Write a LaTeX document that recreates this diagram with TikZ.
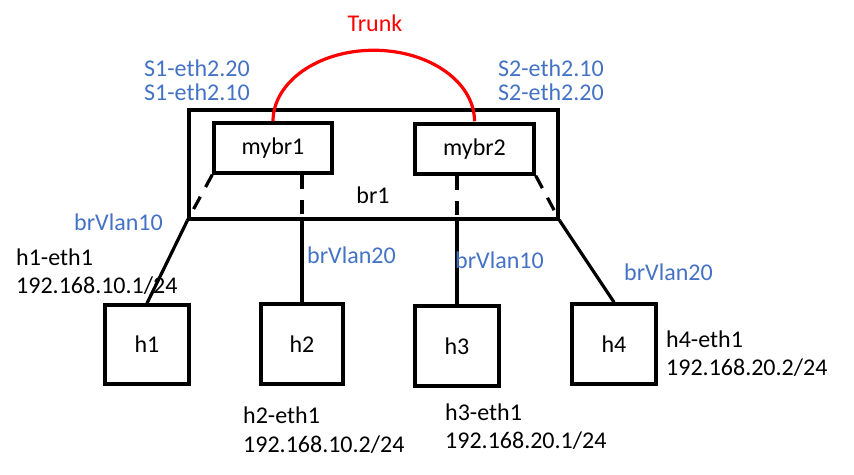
\documentclass[tikz,border=0pt]{standalone}
\usepackage{fontspec}
\setmainfont{Carlito}
\definecolor{lblblue}{HTML}{4472C4}
\definecolor{trunkred}{HTML}{FF0000}
\begin{document}
\begin{tikzpicture}[x=1pt,y=-1pt,
  every node/.style={font=\fontsize{24}{29}\selectfont},
  boxnode/.style={draw=black,line width=3.5pt,inner sep=0pt},
  wire/.style={line width=3.2pt,line cap=butt},
  dashwire/.style={line width=3.2pt,dash pattern=on 14pt off 11pt},
  trunkwire/.style={line width=3.2pt,draw=trunkred},
  bluelbl/.style={text=lblblue,anchor=base west,inner sep=0pt},
  blacklbl/.style={text=black,anchor=base west,inner sep=0pt}]
\useasboundingbox (0,0) rectangle (854,474);
% boxes
\node[boxnode,minimum width=369pt,minimum height=109pt] (br1) at (373.5,164.5) {};
\node[anchor=base,inner sep=0pt] (br1lbl) at (373,203) {br1};
\node[boxnode,minimum width=118pt,minimum height=50pt] (mybr1) at (273,148) {mybr1};
\node[boxnode,minimum width=119pt,minimum height=50pt] (mybr2) at (474.5,149) {mybr2};
\node[boxnode,minimum width=84pt,minimum height=79pt] (h1) at (147,344.5) {h1};
\node[boxnode,minimum width=82pt,minimum height=80pt] (h2) at (302,344) {h2};
\node[boxnode,minimum width=84pt,minimum height=80pt] (h3) at (457,346) {h3};
\node[boxnode,minimum width=84pt,minimum height=80pt] (h4) at (614,344) {h4};
% trunk
\draw[trunkwire] (mybr1.north) arc[start angle=180,end angle=360,x radius=100.75,y radius=71];
\node[text=trunkred,anchor=base,inner sep=0pt] (trunk) at (375,31) {Trunk};
% connectors
\draw[dashwire] (mybr1.south west) -- (br1.south west);
\draw[wire] (br1.south west) -- (h1.north);
\draw[dashwire] (h2.north |- mybr1.south) -- (h2.north |- br1.south);
\draw[wire] (h2.north |- br1.south) -- (h2.north);
\draw[dashwire] (h3.north |- mybr2.south) -- (h3.north |- br1.south);
\draw[wire] (h3.north |- br1.south) -- (h3.north);
\draw[dashwire] (mybr2.south east) -- (br1.south east);
\draw[wire] (br1.south east) -- (h4.north);
% blue labels
\node[bluelbl] (s1a) at (144,76) {S1-eth2.20};
\node[bluelbl] (s1b) at (144,100) {S1-eth2.10};
\node[bluelbl] (s2a) at (498,76) {S2-eth2.10};
\node[bluelbl] (s2b) at (498,100) {S2-eth2.20};
\node[bluelbl] (v1) at (74,230) {brVlan10};
\node[bluelbl] (v2) at (307,263) {brVlan20};
\node[bluelbl] (v3) at (455,268) {brVlan10};
\node[bluelbl] (v4) at (624,280) {brVlan20};
% black labels
\node[blacklbl] (h1a) at (16,265) {h1-eth1};
\node[blacklbl] (h1b) at (16,293) {192.168.10.1/24};
\node[blacklbl] (h2a) at (243,423) {h2-eth1};
\node[blacklbl] (h2b) at (243,452) {192.168.10.2/24};
\node[blacklbl] (h3a) at (445,420) {h3-eth1};
\node[blacklbl] (h3b) at (445,448) {192.168.20.1/24};
\node[blacklbl] (h4a) at (666,347) {h4-eth1};
\node[blacklbl] (h4b) at (666,375) {192.168.20.2/24};
\end{tikzpicture}
\end{document}
